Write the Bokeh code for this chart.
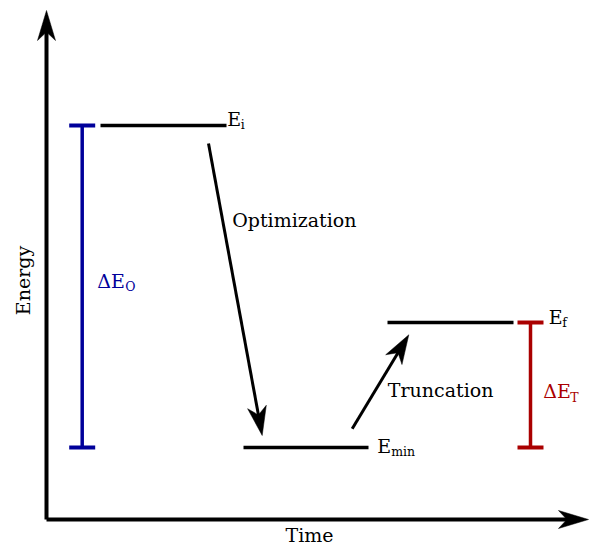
import numpy as np
from bokeh.plotting import figure
from bokeh.models import Range1d
from bokeh.core.properties import value
from bokeh.embed import file_html
from bokeh.resources import INLINE

# ---- data (time, energy in diagram units) ----
level_names = ["E_i", "E_min", "E_f"]
level_t0 = [54, 197, 341]
level_t1 = [180, 322, 467]
level_energy = [394, 72, 197]

# processes: from (time, energy) to (time, energy)
proc_names = ["Optimization", "Truncation"]
proc_t0 = [162, 305.7]
proc_e0 = [376, 90.7]
proc_t1 = [215.7, 362.3]
proc_e1 = [84, 184.7]

# energy differences (bars)
bar_names = ["ΔE_O", "ΔE_T"]
bar_t = [35.7, 484]
bar_low = [72, 72]
bar_high = [394, 197]

axis_time_max = 542
axis_energy_max = 509

FONT = value("DejaVu Serif")
BLUE = "#00009a"
RED = "#aa0000"

p = figure(width=589, height=545, output_backend="svg", toolbar_location=None,
           x_range=Range1d(-46, 543), y_range=Range1d(-26, 519),
           min_border=0, outline_line_color=None)
p.axis.visible = False
p.grid.visible = False
p.background_fill_color = "white"


def head(tx, ty, sx, sy, L=29, W=9.5, N=0.72):
    d = np.array([tx - sx, ty - sy], dtype=float)
    d /= np.hypot(*d)
    n = np.array([-d[1], d[0]])
    T = np.array([tx, ty])
    pts = [T, T - L * d + W * n, T - N * L * d, T - L * d - W * n]
    return [q[0] for q in pts], [q[1] for q in pts]


# axes arrows
p.segment(x0=[0, 0], y0=[0, 0], x1=[axis_time_max - 20, 0], y1=[0, axis_energy_max - 20],
          line_color="black", line_width=4)
hx, hy = [], []
for tx, ty in [(axis_time_max, 0), (0, axis_energy_max)]:
    a, b = head(tx, ty, 0, 0, L=30, W=9)
    hx.append(a); hy.append(b)
p.patches(hx, hy, fill_color="black", line_color="black", line_width=0.5)

# energy levels
p.segment(x0=level_t0, y0=level_energy, x1=level_t1, y1=level_energy,
          line_color="black", line_width=3.5)

# process arrows
sx1, sy1, phx, phy = [], [], [], []
for t0, e0, t1, e1 in zip(proc_t0, proc_e0, proc_t1, proc_e1):
    d = np.array([t1 - t0, e1 - e0]); d /= np.hypot(*d)
    sx1.append(t1 - 18 * d[0]); sy1.append(e1 - 18 * d[1])
    a, b = head(t1, e1, t0, e0)
    phx.append(a); phy.append(b)
p.segment(x0=proc_t0, y0=proc_e0, x1=sx1, y1=sy1, line_color="black", line_width=3)
p.patches(phx, phy, fill_color="black", line_color="black", line_width=0.5)

# bars
colors = [BLUE, RED]
cap = 13
p.segment(x0=bar_t, y0=bar_low, x1=bar_t, y1=bar_high, line_color=colors, line_width=3.5)
p.segment(x0=[t - cap for t in bar_t] * 2, y0=bar_low + bar_high,
          x1=[t + cap for t in bar_t] * 2, y1=bar_low + bar_high,
          line_color=colors * 2, line_width=4)

# ---- labels ----
main_x = [180.7, 330.7, 502.3, 50.7, 496.7]
main_y = [401, 74, 203, 239, 128.5]
main_txt = ["E", "E", "E", "ΔE", "ΔE"]
main_col = ["black", "black", "black", BLUE, RED]
sub_txt = ["i", "min", "f", "O", "T"]
sub_dx = [13.5, 14, 13.5, 28, 27]

p.text(x=main_x, y=main_y, text=main_txt, text_color=main_col, text_font=FONT,
       text_font_size="19px", text_baseline="alphabetic", text_align="left")
p.text(x=main_x, y=main_y, text=sub_txt, text_color=main_col, text_font=FONT,
       text_font_size="12.5px", text_baseline="alphabetic", text_align="left",
       x_offset=sub_dx, y_offset=6)

p.text(x=[185.7, 341.3], y=[299.5, 130], text=proc_names, text_color="black",
       text_font=FONT, text_font_size="19px", text_baseline="alphabetic", text_align="left")

p.text(x=[263], y=[-15], text=["Time"], text_font=FONT, text_font_size="19px",
       text_baseline="alphabetic", text_align="center", text_color="black")
p.text(x=[-24], y=[239], text=["Energy"], text_font=FONT, text_font_size="19px",
       text_baseline="middle", text_align="center", angle=np.pi / 2, text_color="black")

open("out.html", "w").write(file_html(p, INLINE))
